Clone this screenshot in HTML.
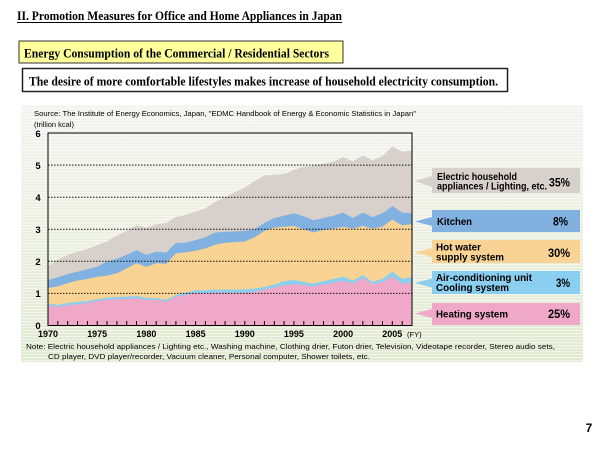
<!DOCTYPE html>
<html><head><meta charset="utf-8">
<style>
html,body{margin:0;padding:0;background:#fff;}
svg{display:block;}
.serif{font-family:"Liberation Serif",serif;font-weight:bold;}
.sans{font-family:"Liberation Sans",sans-serif;}
</style></head>
<body>
<svg width="600" height="450" viewBox="0 0 600 450" xmlns="http://www.w3.org/2000/svg">
<defs>
<linearGradient id="bg" x1="0" y1="0" x2="0" y2="1">
<stop offset="0" stop-color="#f2f2ef"/>
<stop offset="0.45" stop-color="#ecefe0"/>
<stop offset="1" stop-color="#dfe9cf"/>
</linearGradient>
<pattern id="stripes" width="6" height="3" patternUnits="userSpaceOnUse">
<rect x="0" y="0" width="6" height="1.2" fill="#ffffff" fill-opacity="0.55"/>
</pattern>
</defs>
<rect width="600" height="450" fill="#fff"/>

<!-- Title -->
<text class="serif" x="17" y="20" font-size="13" textLength="325" lengthAdjust="spacingAndGlyphs" fill="#000">II. Promotion Measures for Office and Home Appliances in Japan</text>
<line x1="17" y1="22.5" x2="342" y2="22.5" stroke="#000" stroke-width="1"/>

<!-- Yellow box -->
<rect x="19" y="41" width="324" height="22" fill="#ffff9c" stroke="#333" stroke-width="1"/>
<text class="serif" x="24" y="57.5" font-size="13" textLength="305" lengthAdjust="spacingAndGlyphs" fill="#000">Energy Consumption of the Commercial / Residential Sectors</text>

<!-- White box -->
<rect x="22.5" y="68.5" width="485" height="23" fill="#fff" stroke="#222" stroke-width="1.5"/>
<text class="serif" x="29" y="85.5" font-size="13" textLength="469" lengthAdjust="spacingAndGlyphs" fill="#000">The desire of more comfortable lifestyles makes increase of  household electricity consumption.</text>

<!-- Chart panel -->
<rect x="21" y="105" width="562" height="257" fill="url(#bg)"/>
<rect x="21" y="105" width="562" height="257" fill="url(#stripes)"/>

<text class="sans" x="34" y="116" font-size="7.5" textLength="382" lengthAdjust="spacingAndGlyphs" fill="#000">Source:  The Institute of Energy Economics, Japan, "EDMC Handbook of Energy &amp; Economic Statistics in Japan"</text>
<text class="sans" x="34" y="127" font-size="7.5" textLength="40" lengthAdjust="spacingAndGlyphs" fill="#000">(trillion kcal)</text>

<!-- Areas -->
<g transform="translate(48,325.5) scale(9.8378,-32.08)">
<polygon fill="#d8d0cb" points="0,0 0,1.85 1,2.05 2,2.2 3,2.3 4,2.38 5,2.5 6,2.62 7,2.8 8,2.95 9,3.12 10,3.05 11,3.15 12,3.2 13,3.38 14,3.45 15,3.55 16,3.65 17,3.85 18,4.0 19,4.15 20,4.3 21,4.5 22,4.68 23,4.7 24,4.72 25,4.85 26,4.95 27,4.98 28,5.05 29,5.1 30,5.25 31,5.12 32,5.3 33,5.15 34,5.28 35,5.58 36,5.42 37,5.45 37,0"/>
<polygon fill="#80b1e1" points="0,0 0,1.42 1,1.5 2,1.6 3,1.68 4,1.75 5,1.83 6,2.0 7,2.08 8,2.2 9,2.35 10,2.2 11,2.3 12,2.27 13,2.57 14,2.58 15,2.66 16,2.75 17,2.9 18,2.92 19,2.93 20,2.95 21,3.0 22,3.2 23,3.35 24,3.42 25,3.5 26,3.4 27,3.28 28,3.35 29,3.42 30,3.52 31,3.35 32,3.52 33,3.38 34,3.5 35,3.72 36,3.52 37,3.5 37,0"/>
<polygon fill="#f8d393" points="0,0 0,1.17 1,1.22 2,1.32 3,1.4 4,1.45 5,1.52 6,1.55 7,1.63 8,1.78 9,1.94 10,1.83 11,1.94 12,1.92 13,2.25 14,2.28 15,2.33 16,2.4 17,2.52 18,2.58 19,2.6 20,2.62 21,2.75 22,2.95 23,3.05 24,3.08 25,3.1 26,3.0 27,2.9 28,2.98 29,3.02 30,3.08 31,3.02 32,3.1 33,3.02 34,3.08 35,3.3 36,3.12 37,3.16 37,0"/>
<polygon fill="#8acef0" points="0,0 0,0.69 1,0.64 2,0.7 3,0.74 4,0.76 5,0.82 6,0.86 7,0.89 8,0.9 9,0.92 10,0.86 11,0.85 12,0.8 13,0.95 14,1.02 15,1.1 16,1.1 17,1.12 18,1.12 19,1.12 20,1.13 21,1.15 22,1.2 23,1.28 24,1.38 25,1.42 26,1.36 27,1.3 28,1.38 29,1.45 30,1.52 31,1.4 32,1.57 33,1.36 34,1.45 35,1.68 36,1.45 37,1.51 37,0"/>
<polygon fill="#f0a8c8" points="0,0 0,0.63 1,0.58 2,0.63 3,0.66 4,0.7 5,0.76 6,0.8 7,0.82 8,0.83 9,0.85 10,0.8 11,0.8 12,0.74 13,0.9 14,0.95 15,1.02 16,1.0 17,1.03 18,1.03 19,1.02 20,1.03 21,1.05 22,1.12 23,1.18 24,1.25 25,1.29 26,1.26 27,1.22 28,1.28 29,1.33 30,1.39 31,1.3 32,1.48 33,1.29 34,1.35 35,1.52 36,1.3 37,1.34 37,0"/>
</g>

<!-- Gridlines -->
<g stroke="#111" stroke-width="1" stroke-dasharray="1.5,1.5">
<line x1="48" y1="293.4" x2="412" y2="293.4"/>
<line x1="48" y1="261.3" x2="412" y2="261.3"/>
<line x1="48" y1="229.3" x2="412" y2="229.3"/>
<line x1="48" y1="197.2" x2="412" y2="197.2"/>
<line x1="48" y1="165.1" x2="412" y2="165.1"/>
</g>

<!-- Ticks -->
<g stroke="#000" stroke-width="1">
<path d="M48,325.5v-4.5 M57.8,325.5v-4.5 M67.7,325.5v-4.5 M77.5,325.5v-4.5 M87.4,325.5v-4.5 M97.2,325.5v-4.5 M107,325.5v-4.5 M116.9,325.5v-4.5 M126.7,325.5v-4.5 M136.5,325.5v-4.5 M146.4,325.5v-4.5 M156.2,325.5v-4.5 M166.1,325.5v-4.5 M175.9,325.5v-4.5 M185.7,325.5v-4.5 M195.6,325.5v-4.5 M205.4,325.5v-4.5 M215.2,325.5v-4.5 M225.1,325.5v-4.5 M234.9,325.5v-4.5 M244.8,325.5v-4.5 M254.6,325.5v-4.5 M264.4,325.5v-4.5 M274.3,325.5v-4.5 M284.1,325.5v-4.5 M293.9,325.5v-4.5 M303.8,325.5v-4.5 M313.6,325.5v-4.5 M323.5,325.5v-4.5 M333.3,325.5v-4.5 M343.1,325.5v-4.5 M353,325.5v-4.5 M362.8,325.5v-4.5 M372.6,325.5v-4.5 M382.5,325.5v-4.5 M392.3,325.5v-4.5 M402.2,325.5v-4.5"/>
</g>

<!-- Frame -->
<rect x="48" y="133" width="364" height="192.5" fill="none" stroke="#000" stroke-width="1"/>

<!-- Y labels -->
<g class="sans" font-size="9.5" font-weight="bold" text-anchor="middle" fill="#000">
<text x="38" y="329">0</text>
<text x="38" y="297">1</text>
<text x="38" y="265">2</text>
<text x="38" y="233">3</text>
<text x="38" y="201">4</text>
<text x="38" y="169">5</text>
<text x="38" y="137">6</text>
</g>

<!-- X labels -->
<g class="sans" font-size="9.5" font-weight="bold" text-anchor="middle" fill="#000">
<text x="48" y="337" textLength="20" lengthAdjust="spacingAndGlyphs">1970</text>
<text x="97.2" y="337" textLength="20" lengthAdjust="spacingAndGlyphs">1975</text>
<text x="146.4" y="337" textLength="20" lengthAdjust="spacingAndGlyphs">1980</text>
<text x="195.6" y="337" textLength="20" lengthAdjust="spacingAndGlyphs">1985</text>
<text x="244.8" y="337" textLength="20" lengthAdjust="spacingAndGlyphs">1990</text>
<text x="293.9" y="337" textLength="20" lengthAdjust="spacingAndGlyphs">1995</text>
<text x="343.1" y="337" textLength="20" lengthAdjust="spacingAndGlyphs">2000</text>
<text x="392.3" y="337" textLength="20" lengthAdjust="spacingAndGlyphs">2005</text>
</g>
<text class="sans" x="407" y="337" font-size="7.5" fill="#000">(FY)</text>

<!-- Note -->
<text class="sans" x="26" y="349" font-size="7.5" textLength="529" lengthAdjust="spacingAndGlyphs" fill="#000">Note: Electric household appliances / Lighting etc., Washing machine, Clothing drier, Futon drier, Television, Videotape recorder, Stereo audio sets,</text>
<text class="sans" x="48" y="359" font-size="7.5" textLength="322" lengthAdjust="spacingAndGlyphs" fill="#000">CD player, DVD player/recorder, Vacuum cleaner, Personal computer, Shower toilets, etc.</text>

<!-- Callouts -->
<g class="sans" font-weight="bold" fill="#000">
<polygon points="415,181 432,176 432,187" fill="#d8d0cb"/>
<rect x="432" y="168" width="148" height="25" fill="#d8d0cb"/>
<text x="437" y="180" font-size="10" textLength="80" lengthAdjust="spacingAndGlyphs">Electric household</text>
<text x="437" y="189.5" font-size="10" textLength="110" lengthAdjust="spacingAndGlyphs">appliances / Lighting, etc.</text>
<text x="549" y="186.5" font-size="12" textLength="21" lengthAdjust="spacingAndGlyphs">35%</text>

<polygon points="415,221.5 432,217 432,226" fill="#80b1e1"/>
<rect x="432" y="210" width="148" height="22" fill="#80b1e1"/>
<text x="437" y="225" font-size="10" textLength="35" lengthAdjust="spacingAndGlyphs">Kitchen</text>
<text x="553" y="225.5" font-size="12" textLength="15" lengthAdjust="spacingAndGlyphs">8%</text>

<polygon points="415,252.5 432,248 432,257" fill="#f8d393"/>
<rect x="432" y="240" width="148" height="23" fill="#f8d393"/>
<text x="436" y="250.5" font-size="10" textLength="45" lengthAdjust="spacingAndGlyphs">Hot water</text>
<text x="436" y="260.5" font-size="10" textLength="68" lengthAdjust="spacingAndGlyphs">supply system</text>
<text x="548" y="257" font-size="12" textLength="22" lengthAdjust="spacingAndGlyphs">30%</text>

<polygon points="415,283 432,278.5 432,287.5" fill="#8acef0"/>
<rect x="432" y="271" width="148" height="23" fill="#8acef0"/>
<text x="436" y="281" font-size="10" textLength="96" lengthAdjust="spacingAndGlyphs">Air-conditioning unit</text>
<text x="436" y="291" font-size="10" textLength="73" lengthAdjust="spacingAndGlyphs">Cooling system</text>
<text x="556" y="287" font-size="12" textLength="14" lengthAdjust="spacingAndGlyphs">3%</text>

<polygon points="415,313.5 432,309 432,318" fill="#f0a8c8"/>
<rect x="432" y="303" width="148" height="22" fill="#f0a8c8"/>
<text x="436" y="317.5" font-size="10" textLength="72" lengthAdjust="spacingAndGlyphs">Heating system</text>
<text x="548" y="318" font-size="12" textLength="22" lengthAdjust="spacingAndGlyphs">25%</text>
</g>

<!-- Page number -->
<text class="sans" x="589" y="432" font-size="12" font-weight="bold" text-anchor="middle" fill="#000">7</text>
</svg>
</body></html>
